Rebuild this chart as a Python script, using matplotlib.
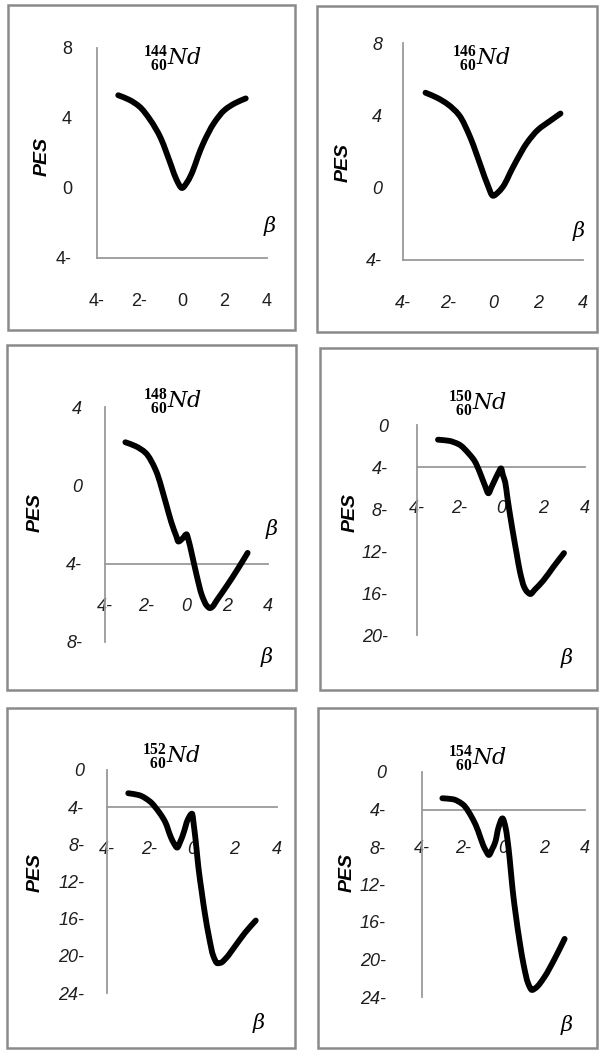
import matplotlib
matplotlib.use("Agg")
import matplotlib.pyplot as plt
from matplotlib.patches import Rectangle, PathPatch
from matplotlib.path import Path

plt.rcParams["mathtext.fontset"] = "custom"
plt.rcParams["mathtext.bf"] = "Liberation Serif:bold"
plt.rcParams["mathtext.rm"] = "Liberation Serif"
plt.rcParams["mathtext.it"] = "DejaVu Serif:italic"

# ---- potential energy surfaces PES(beta) for the Nd isotopes ----
isotopes = ["144", "146", "148", "150", "152", "154"]
proton_number = "60"

beta_144 = [-3, -2.5, -2, -1.5, -1, -0.75, -0.5, -0.25, 0, 0.25, 0.5, 0.75, 1, 1.5, 2, 2.5, 3]
pes_144 = [5.3, 5.05, 4.65, 3.9, 2.85, 2.08, 1.25, 0.45, 0.0, 0.35, 0.95, 1.8, 2.55, 3.7, 4.45, 4.85, 5.12]

beta_146 = [-3, -2.5, -2, -1.5, -1, -0.75, -0.5, -0.25, 0, 0.25, 0.5, 0.75, 1, 1.5, 2, 2.5, 3]
pes_146 = [5.25, 4.98, 4.6, 4.0, 2.75, 1.92, 1.04, 0.19, -0.45, -0.23, 0.16, 0.79, 1.39, 2.46, 3.2, 3.66, 4.1]

beta_148 = [-3, -2.5, -2, -1.5, -1, -0.75, -0.5, -0.4, -0.2, 0, 0.1, 0.25, 0.5, 0.75, 1, 1.15, 1.25, 1.5, 2, 2.5, 3]
pes_148 = [2.2, 2.0, 1.65, 0.75, -0.95, -1.87, -2.6, -2.87, -2.72, -2.5, -2.8, -3.45, -4.6, -5.6, -6.15, -6.27, -6.22, -5.85, -5.1, -4.3, -3.45]

beta_150 = [-3, -2.5, -2, -1.5, -1.25, -1, -0.75, -0.6, -0.45, -0.25, -0.1, 0, 0.1, 0.2, 0.3, 0.45, 0.6, 0.75, 0.9, 1.1, 1.25, 1.4, 1.6, 2, 2.5, 3]
pes_150 = [-1.4, -1.5, -1.85, -2.8, -3.45, -4.55, -5.85, -6.5, -5.9, -5.05, -4.45, -4.13, -4.83, -5.45, -6.85, -8.8, -10.6, -12.3, -13.95, -15.42, -15.9, -16.1, -15.7, -14.85, -13.5, -12.2]

beta_152 = [-3, -2.5, -2, -1.5, -1.25, -1, -0.85, -0.7, -0.55, -0.4, -0.2, 0, 0.1, 0.2, 0.3, 0.45, 0.6, 0.8, 1.0, 1.2, 1.35, 1.6, 2, 2.5, 3]
pes_152 = [-2.5, -2.7, -3.35, -4.7, -5.65, -7.2, -7.9, -8.35, -7.7, -6.8, -5.35, -4.7, -6.2, -8.2, -10.45, -13.0, -15.36, -17.97, -20.0, -20.8, -20.75, -20.25, -19.05, -17.5, -16.2]

beta_154 = [-3, -2.5, -2, -1.5, -1.25, -1, -0.85, -0.72, -0.55, -0.4, -0.25, -0.05, 0.1, 0.2, 0.3, 0.45, 0.6, 0.8, 1.0, 1.2, 1.4, 1.6, 2, 2.5, 3]
pes_154 = [-2.8, -2.9, -3.45, -5.05, -6.26, -7.8, -8.45, -8.85, -8.2, -7.45, -5.95, -4.95, -5.9, -7.3, -9.2, -12.6, -15.2, -18.2, -20.7, -22.5, -23.25, -23.0, -21.9, -19.97, -17.8]

x_ticks = [-4, -2, 0, 2, 4]
y_ticks_144 = [8, 4, 0, -4]
y_ticks_146 = [8, 4, 0, -4]
y_ticks_148 = [4, 0, -4, -8]
y_ticks_150 = [0, -4, -8, -12, -16, -20]
y_ticks_152 = [0, -4, -8, -12, -16, -20, -24]
y_ticks_154 = [0, -4, -8, -12, -16, -20, -24]
axis_cross = -4

W, H = 600, 1053
fig = plt.figure(figsize=(W / 100, H / 100), dpi=100)


def rect(l, r, t, b):
    return [l / W, 1 - b / H, (r - l) / W, (b - t) / H]


def fx(x):
    return x / W


def fy(y):
    return 1 - y / H


def tick_text(v):
    if v < 0:
        return f"{abs(v)}-"
    return f"{v}"


def nuclide(mass, z):
    # mass number over proton number (right-aligned), followed by the symbol
    pad = r"\enspace" * (len(mass) - len(z))
    return r"${}^{\mathbf{%s}}_{%s\mathbf{%s}}\mathit{Nd}$" % (mass, pad, z)


def smooth_path(xs, ys):
    """Smoothed line through the points as cubic Bezier segments
    (shape-preserving Hermite tangents, like a spreadsheet 'smoothed line')."""
    n = len(xs)
    h = [xs[i + 1] - xs[i] for i in range(n - 1)]
    d = [(ys[i + 1] - ys[i]) / h[i] for i in range(n - 1)]
    m = [0.0] * n
    m[0], m[-1] = d[0], d[-1]
    for k in range(1, n - 1):
        if d[k - 1] * d[k] <= 0:
            m[k] = 0.0
        else:
            w1 = 2 * h[k] + h[k - 1]
            w2 = h[k] + 2 * h[k - 1]
            m[k] = (w1 + w2) / (w1 / d[k - 1] + w2 / d[k])
    verts = [(xs[0], ys[0])]
    codes = [Path.MOVETO]
    for i in range(n - 1):
        verts += [(xs[i] + h[i] / 3, ys[i] + m[i] * h[i] / 3),
                  (xs[i + 1] - h[i] / 3, ys[i + 1] - m[i + 1] * h[i] / 3),
                  (xs[i + 1], ys[i + 1])]
        codes += [Path.CURVE4] * 3
    return Path(verts, codes)


panels = [
    dict(beta=beta_144, pes=pes_144, yt=y_ticks_144, iso=isotopes[0],
         frame=(8, 295, 5, 330), ax=(97, 267, 48, 258), ylim=(-4, 8),
         style="normal", ypad=18, xpad=25,
         title=(143, 65), betas=[(270, 226)], pes_lbl=(42, 157)),
    dict(beta=beta_146, pes=pes_146, yt=y_ticks_146, iso=isotopes[1],
         frame=(317, 597, 6, 332), ax=(403, 583, 43, 260), ylim=(-4, 8),
         style="italic", ypad=15, xpad=25,
         title=(452, 65), betas=[(579, 231)], pes_lbl=(343, 163)),
    dict(beta=beta_148, pes=pes_148, yt=y_ticks_148, iso=isotopes[2],
         frame=(7, 296, 345, 690), ax=(105, 268, 407, 642), ylim=(-8, 4),
         style="italic", ypad=16.5, xpad=25,
         title=(143, 408), betas=[(272, 529), (267, 657)], pes_lbl=(35, 513)),
    dict(beta=beta_150, pes=pes_150, yt=y_ticks_150, iso=isotopes[3],
         frame=(320, 597, 348, 690), ax=(417, 585, 425, 635), ylim=(-20, 0),
         style="italic", ypad=21, xpad=24,
         title=(448, 410), betas=[(567, 658)], pes_lbl=(350, 513)),
    dict(beta=beta_152, pes=pes_152, yt=y_ticks_152, iso=isotopes[4],
         frame=(7, 295, 708, 1048), ax=(107, 277, 770, 993), ylim=(-24, 0),
         style="italic", ypad=16.5, xpad=24,
         title=(142, 763), betas=[(259, 1023)], pes_lbl=(35, 873)),
    dict(beta=beta_154, pes=pes_154, yt=y_ticks_154, iso=isotopes[5],
         frame=(318, 597, 708, 1048), ax=(422, 585, 772, 997), ylim=(-24, 0),
         style="italic", ypad=26, xpad=22,
         title=(448, 765), betas=[(567, 1025)], pes_lbl=(347, 873)),
]

axis_grey = "#9a9a9a"
label_col = "#1e1e1e"

for p in panels:
    l, r, t, b = p["frame"]
    fig.patches.append(Rectangle((fx(l), fy(b)), (r - l) / W, (b - t) / H,
                                 transform=fig.transFigure, fill=False,
                                 edgecolor="#8a8a8a", linewidth=1.8, zorder=0))

    al, ar, at, ab = p["ax"]
    ax = fig.add_axes(rect(al, ar, at, ab))
    ax.patch.set_visible(False)
    ax.set_xlim(-4, 4)
    ax.set_ylim(*p["ylim"])
    ax.set_axisbelow(True)

    for s in ("top", "right"):
        ax.spines[s].set_visible(False)
    ax.spines["bottom"].set_position(("data", axis_cross))
    for s in ("left", "bottom"):
        ax.spines[s].set_color(axis_grey)
        ax.spines[s].set_linewidth(1.3)
        ax.spines[s].set_zorder(1)

    ax.set_xticks(x_ticks)
    ax.set_xticklabels([tick_text(v) for v in x_ticks])
    ax.set_yticks(p["yt"])
    ax.set_yticklabels([tick_text(v) for v in p["yt"]])
    ax.tick_params(axis="both", length=0, labelsize=13, labelcolor=label_col)
    ax.tick_params(axis="x", pad=p["xpad"])
    ax.tick_params(axis="y", pad=p["ypad"])
    for lab in ax.get_xticklabels() + ax.get_yticklabels():
        lab.set_family("Liberation Sans")
        lab.set_style(p["style"])

    curve = PathPatch(smooth_path(p["beta"], p["pes"]), transform=ax.transData,
                      fill=False, edgecolor="black", linewidth=4.2,
                      capstyle="round", joinstyle="round", zorder=3)
    curve.set_clip_on(False)
    ax.add_patch(curve)

    tx, ty = p["title"]
    fig.text(fx(tx), fy(ty), nuclide(p["iso"], proton_number), ha="left",
             va="baseline", fontsize=16, color="black")

    for bx, by in p["betas"]:
        fig.text(fx(bx), fy(by), "β", ha="center", va="center",
                 family="DejaVu Serif", style="italic", fontsize=15, color="black")

    px, py = p["pes_lbl"]
    fig.text(fx(px), fy(py), "PES", ha="center", va="center", rotation=90,
             family="Liberation Sans", weight="bold", style="italic",
             fontsize=14, color="black")

fig.savefig("out.png", dpi=100, facecolor="white")
